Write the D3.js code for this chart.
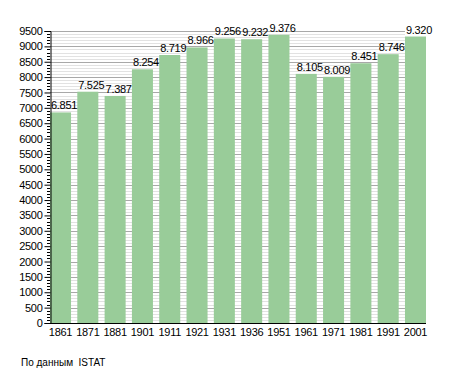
<!DOCTYPE html>
<html>
<head>
<meta charset="utf-8">
<script src="https://cdn.jsdelivr.net/npm/d3@7"></script>
<style>
  body { margin: 0; background: #fff; }
  svg { display: block; font-family: "Liberation Sans", Arial, sans-serif; }
</style>
</head>
<body>
<div id="chart"></div>
<script>
// Population by census year
const years = ["1861", "1871", "1881", "1901", "1911", "1921", "1931", "1936", "1951", "1961", "1971", "1981", "1991", "2001"];
const population = [6851, 7525, 7387, 8254, 8719, 8966, 9256, 9232, 9376, 8105, 8009, 8451, 8746, 9320];
const yMax = 9500;
const sourceNote = "По данным\u00a0\u00a0ISTAT";

const width = 455, height = 373;
const plot = {left: 50, right: 426, top: 31, bottom: 323};

const svg = d3.select("#chart").append("svg")
    .attr("width", width)
    .attr("height", height);

const x = d3.scaleBand()
    .domain(years)
    .range([plot.left, plot.right])
    .paddingInner(0.23)
    .paddingOuter(0);

const y = d3.scaleLinear()
    .domain([0, yMax])
    .range([plot.bottom, plot.top]);

const itFormat = d3.formatLocale({decimal: ",", thousands: ".", grouping: [3], currency: ["", ""]}).format(",d");

// grid ends where the last bar starts (as in the original)
const gridRight = x(years[years.length - 1]);

const minorTicks = d3.range(100, yMax + 1, 100).filter(d => d % 500 !== 0);
const majorTicks = d3.range(500, yMax + 1, 500);

svg.append("g").selectAll("line")
    .data(minorTicks)
    .join("line")
    .attr("x1", plot.left).attr("x2", gridRight)
    .attr("y1", d => Math.round(y(d)) + 0.5).attr("y2", d => Math.round(y(d)) + 0.5)
    .attr("stroke", "#e2e2e2");

svg.append("g").selectAll("line")
    .data(majorTicks)
    .join("line")
    .attr("x1", plot.left).attr("x2", gridRight)
    .attr("y1", d => Math.round(y(d)) + 0.5).attr("y2", d => Math.round(y(d)) + 0.5)
    .attr("stroke", "#a8a8a8");

// bars
svg.append("g").selectAll("rect")
    .data(population)
    .join("rect")
    .attr("x", (d, i) => x(years[i]))
    .attr("width", x.bandwidth())
    .attr("y", d => y(d))
    .attr("height", d => y(0) - y(d))
    .attr("fill", "#99cc99");

// value labels (start at the bar's left edge, as in the original)
svg.append("g").selectAll("text")
    .data(population)
    .join("text")
    .attr("x", (d, i) => x(years[i]) + 1)
    .attr("y", d => y(d) - 3)
    .attr("text-anchor", "start")
    .attr("font-size", 11)
    .attr("letter-spacing", -0.3)
    .attr("fill", "#000")
    .text(d => itFormat(d));

// y axis: major + minor ticks
const yAxis = svg.append("g")
    .attr("transform", `translate(${plot.left + 0.5},0)`)
    .call(d3.axisLeft(y).tickValues(d3.range(0, yMax + 1, 500)).tickSize(6).tickPadding(2).tickFormat(d3.format("d")));
yAxis.select(".domain").attr("stroke", "#000");
yAxis.selectAll("text").attr("font-size", 11).attr("letter-spacing", -0.3).attr("fill", "#000");

svg.append("g").selectAll("line")
    .data(minorTicks)
    .join("line")
    .attr("x1", plot.left - 3).attr("x2", plot.left)
    .attr("y1", d => Math.round(y(d)) + 0.5).attr("y2", d => Math.round(y(d)) + 0.5)
    .attr("stroke", "#000");

// x axis
const xAxis = svg.append("g")
    .attr("transform", `translate(0,${plot.bottom + 0.5})`)
    .call(d3.axisBottom(x).tickSize(0).tickPadding(5));
xAxis.select(".domain").attr("stroke", "#000").attr("d", `M${plot.left},0H${plot.right}`);
xAxis.selectAll("text").attr("font-size", 11).attr("letter-spacing", -0.3).attr("fill", "#000");

// source note
svg.append("text")
    .attr("x", 21)
    .attr("y", 366)
    .attr("font-size", 10)
    .attr("fill", "#000")
    .text(sourceNote);
</script>
</body>
</html>
